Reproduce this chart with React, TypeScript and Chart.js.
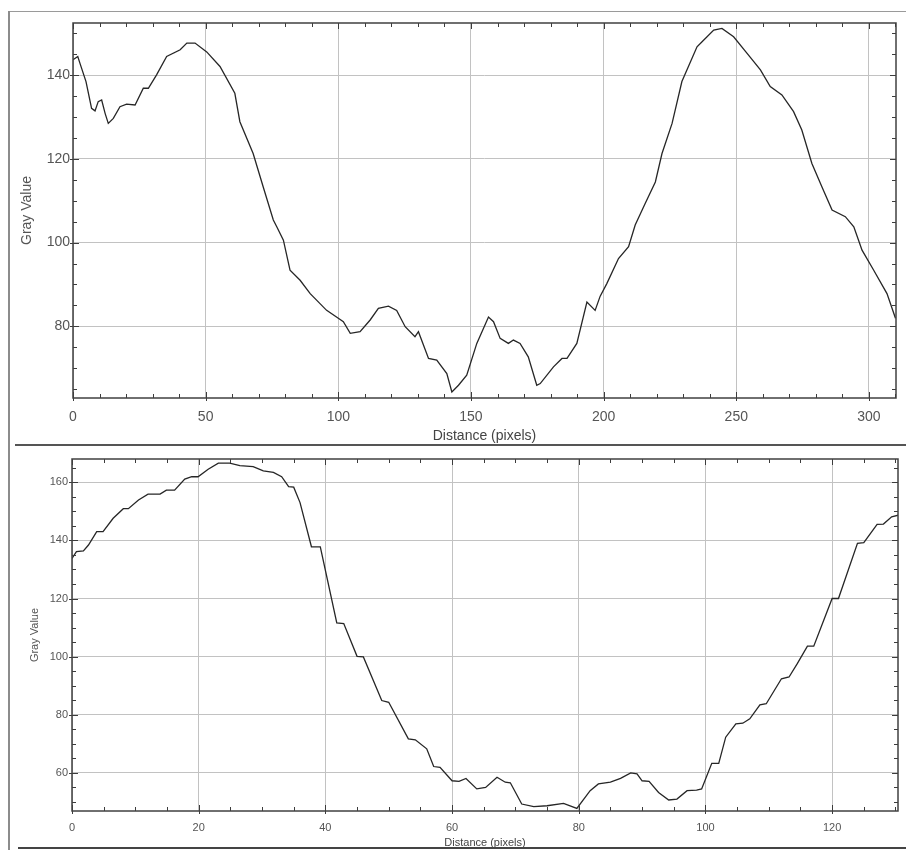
import React, { useEffect, useRef } from "react";
import { Chart, registerables } from "chart.js";

Chart.register(...registerables);

// ---- Top profile (Distance in pixels vs Gray Value) ----
const topDistance = [
  0, 1.8, 2.6, 4.9, 7, 8.3, 9.5, 10.8, 12.1, 13.3, 15.2, 17.7, 20.2, 23.4, 26.5, 28.4, 31.5, 35.3, 40.4,
  42.9, 46, 50.4, 55.4, 61, 62.9, 67.9, 71.7, 75.5, 76.8, 79.3, 81.8, 85.6, 89.4, 95.6, 100, 101.9, 104.5,
  108.2, 112, 115.1, 118.9, 122, 125.2, 128.9, 130.2, 134, 137.1, 140.9, 142.8, 145.3, 148.4, 152.2, 156.6,
  158.5, 161, 164.1, 166, 168.5, 171.6, 174.8, 176.1, 181.1, 184.3, 186.2, 189.9, 193.7, 196.8, 198.7,
  201.2, 205.6, 209.4, 211.9, 215.7, 219.5, 222, 225.8, 229.5, 235.2, 237.1, 241.5, 244.6, 249, 254, 259.1,
  262.8, 267.2, 271.6, 274.7, 278.5, 282.3, 286.1, 291.1, 294.3, 297.4, 301.8, 306.8, 310,
];
const topGray = [
  143.7, 144.5, 142.9, 138.5, 132.1, 131.5, 133.7, 134.1, 130.9, 128.5, 129.7, 132.5, 133.1, 132.9, 136.9,
  136.9, 140.1, 144.5, 146.1, 147.7, 147.7, 145.6, 142.1, 135.7, 128.9, 121.3, 113.3, 105.4, 103.8, 100.6,
  93.4, 91, 87.8, 83.8, 81.9, 81.1, 78.3, 78.7, 81.5, 84.3, 84.8, 83.8, 79.9, 77.5, 78.7, 72.3, 71.9, 68.7,
  64.3, 65.9, 68.3, 75.9, 82.2, 81.1, 77.1, 75.9, 76.7, 75.9, 72.7, 65.9, 66.3, 70.3, 72.3, 72.3, 75.9,
  85.8, 83.8, 87.2, 90.2, 96.2, 99.0, 104.2, 109.4, 114.5, 121.3, 128.5, 138.5, 146.8, 148.0, 150.8, 151.2,
  149.2, 145.3, 141.3, 137.3, 135.3, 131.3, 126.9, 118.9, 113.3, 107.8, 106.2, 103.8, 98.2, 93.4, 87.8, 81.9,
];
const topXTicks = [0, 50, 100, 150, 200, 250, 300];
const topYTicks = [80, 100, 120, 140];

// ---- Bottom profile ----
const bottomDistance = [
  0, 0.7, 1.8, 2.6, 3.9, 4.9, 6.5, 8.1, 8.9, 10.5, 12, 13.9, 14.9, 16.2, 17.8, 18.9, 19.9, 21.5, 23.1, 24.9,
  26.5, 28.6, 30.2, 31.8, 33.1, 34.2, 35, 36, 37.8, 39.2, 41.8, 42.9, 45, 46, 48.9, 50, 53.1, 54.2, 56, 57.1,
  58.1, 60, 61.1, 62.2, 63.9, 65.3, 67.1, 68.4, 69.2, 71, 72.9, 75, 77.6, 79.7, 81.8, 83.1, 85, 86.6, 88.2,
  89.2, 90, 91.1, 92.6, 94.2, 95.5, 97.1, 98.6, 99.4, 101, 102.1, 103.2, 104.8, 105.9, 107, 108.6, 109.6,
  112, 113.2, 114.5, 116.1, 117.1, 120, 121, 124, 125, 127.1, 128.1, 129.4, 130.5,
];
const bottomGray = [
  133.8, 136.1, 136.4, 138.4, 143, 143, 147.6, 150.9, 150.9, 153.9, 155.9, 155.9, 157.3, 157.3, 161.1, 161.9,
  161.9, 164.5, 166.6, 166.6, 165.7, 165.4, 163.9, 163.4, 161.9, 158.5, 158.3, 153, 137.8, 137.8, 111.6,
  111.4, 100.1, 99.9, 84.9, 84.3, 71.7, 71.4, 68.3, 62.2, 61.9, 57.3, 57.1, 58.1, 54.5, 55, 58.5, 56.8,
  56.6, 49.3, 48.4, 48.7, 49.5, 47.8, 53.9, 56.2, 56.8, 58.1, 60, 59.7, 57.3, 57.1, 53.3, 50.7, 51, 53.9,
  54.1, 54.5, 63.3, 63.3, 72.3, 76.9, 77.1, 78.6, 83.4, 83.8, 92.4, 93, 97.6, 103.6, 103.6, 120, 120, 139,
  139.2, 145.5, 145.6, 148.1, 148.7,
];
const bottomXTicks = [0, 20, 40, 60, 80, 100, 120];
const bottomYTicks = [60, 80, 100, 120, 140, 160];

const FONT = "'Liberation Sans', Arial, Helvetica, sans-serif";

function framePlugin(xMajor: number, xMinor: number, yMajor: number, yMinor: number, majorLen: number, minorLen: number) {
  const isMult = (v: number, s: number) => Math.abs(v / s - Math.round(v / s)) < 1e-6;
  return {
    id: "frameTicks",
    afterDraw(chart: any) {
      const { ctx, chartArea: a, scales } = chart;
      const xs = scales.x;
      const ys = scales.y;
      ctx.save();
      ctx.strokeStyle = "#3c3c3c";
      ctx.lineWidth = 1;
      ctx.beginPath();
      for (let v = Math.ceil(xs.min / xMinor) * xMinor; v <= xs.max + 1e-9; v += xMinor) {
        const px = Math.round(xs.getPixelForValue(v)) + 0.5;
        const major = isMult(v, xMajor);
        const len = major ? majorLen : minorLen;
        ctx.moveTo(px, a.bottom);
        ctx.lineTo(px, a.bottom - len);
        ctx.moveTo(px, a.top);
        ctx.lineTo(px, a.top + len);
        if (major) {
          ctx.moveTo(px, a.bottom);
          ctx.lineTo(px, a.bottom + 3);
        }
      }
      for (let v = Math.ceil(ys.min / yMinor) * yMinor; v <= ys.max + 1e-9; v += yMinor) {
        const py = Math.round(ys.getPixelForValue(v)) + 0.5;
        const major = isMult(v, yMajor);
        const len = major ? majorLen : minorLen;
        ctx.moveTo(a.left, py);
        ctx.lineTo(a.left + len, py);
        ctx.moveTo(a.right, py);
        ctx.lineTo(a.right - len, py);
        if (major) {
          ctx.moveTo(a.left, py);
          ctx.lineTo(a.left - 3, py);
        }
      }
      ctx.stroke();
      ctx.lineWidth = 1.5;
      ctx.strokeStyle = "#404040";
      ctx.strokeRect(a.left, a.top, a.right - a.left, a.bottom - a.top);
      ctx.restore();
    },
  };
}

type PanelOpts = {
  xs: number[];
  ys: number[];
  xTicks: number[];
  yTicks: number[];
  xMin: number;
  xMax: number;
  yMin: number;
  yMax: number;
  xStep: number;
  yStep: number;
  xMinor: number;
  yMinor: number;
  padding: { left: number; top: number; right: number; bottom: number };
  yWidth: number;
  xHeight: number;
  tickFont: number;
  xTickPad: number;
  yTickPad: number;
  titleFont: number;
  yTitlePad: number;
};

function makeConfig(p: PanelOpts): any {
  return {
    type: "line",
    data: {
      datasets: [
        {
          data: p.xs.map((x, i) => ({ x, y: p.ys[i] })),
          borderColor: "#262626",
          borderWidth: 1.3,
          pointRadius: 0,
          tension: 0,
          fill: false,
        },
      ],
    },
    options: {
      animation: false,
      responsive: false,
      maintainAspectRatio: false,
      layout: { padding: p.padding },
      plugins: { legend: { display: false }, tooltip: { enabled: false } },
      scales: {
        x: {
          type: "linear",
          min: p.xMin,
          max: p.xMax,
          afterBuildTicks: (s: any) => {
            s.ticks = p.xTicks.map((value) => ({ value }));
          },
          afterFit: (s: any) => {
            s.height = p.xHeight;
          },
          ticks: {
            stepSize: p.xStep,
            includeBounds: false,
            autoSkip: false,
            maxRotation: 0,
            padding: p.xTickPad,
            color: "#555",
            font: { family: FONT, size: p.tickFont },
          },
          grid: { color: "#c2c2c2", lineWidth: 1, drawTicks: false },
          border: { display: false },
          title: {
            display: true,
            text: "Distance (pixels)",
            color: "#444",
            font: { family: FONT, size: p.titleFont },
            padding: { top: 0, bottom: 0 },
          },
        },
        y: {
          type: "linear",
          min: p.yMin,
          max: p.yMax,
          afterBuildTicks: (s: any) => {
            s.ticks = p.yTicks.map((value) => ({ value }));
          },
          afterFit: (s: any) => {
            s.width = p.yWidth;
          },
          ticks: {
            stepSize: p.yStep,
            includeBounds: false,
            autoSkip: false,
            padding: p.yTickPad,
            color: "#555",
            font: { family: FONT, size: p.tickFont },
          },
          grid: { color: "#c2c2c2", lineWidth: 1, drawTicks: false },
          border: { display: false },
          title: {
            display: true,
            text: "Gray Value",
            color: "#555",
            font: { family: FONT, size: p.titleFont },
            padding: { top: p.yTitlePad, bottom: 0 },
          },
        },
      },
    },
    plugins: [framePlugin(p.xStep, p.xMinor, p.yStep, p.yMinor, 6, 4)],
  };
}

export default function App() {
  const topRef = useRef<HTMLCanvasElement>(null);
  const botRef = useRef<HTMLCanvasElement>(null);

  useEffect(() => {
    document.body.style.margin = "0";
    const c1 = new Chart(
      topRef.current as HTMLCanvasElement,
      makeConfig({
        xs: topDistance,
        ys: topGray,
        xTicks: topXTicks,
        yTicks: topYTicks,
        xMin: 0,
        xMax: 310.2,
        yMin: 62.85,
        yMax: 152.5,
        xStep: 50,
        yStep: 20,
        xMinor: 10,
        yMinor: 5,
        padding: { left: 0, top: 23, right: 10, bottom: 0 },
        yWidth: 73,
        xHeight: 47,
        tickFont: 14,
        xTickPad: 11,
        yTickPad: 3,
        titleFont: 14,
        yTitlePad: 19,
      })
    );
    const c2 = new Chart(
      botRef.current as HTMLCanvasElement,
      makeConfig({
        xs: bottomDistance,
        ys: bottomGray,
        xTicks: bottomXTicks,
        yTicks: bottomYTicks,
        xMin: 0,
        xMax: 130.4,
        yMin: 46.9,
        yMax: 168,
        xStep: 20,
        yStep: 20,
        xMinor: 5,
        yMinor: 5,
        padding: { left: 0, top: 14, right: 8, bottom: 0 },
        yWidth: 72,
        xHeight: 39,
        tickFont: 11,
        xTickPad: 10,
        yTickPad: 4,
        titleFont: 11,
        yTitlePad: 28,
      })
    );
    return () => {
      c1.destroy();
      c2.destroy();
    };
  }, []);

  return (
    <div style={{ position: "absolute", left: 0, top: 0, width: 906, height: 850, background: "#fff", overflow: "hidden" }}>
      <canvas ref={topRef} width={906} height={445} style={{ position: "absolute", left: 0, top: 0, width: 906, height: 445 }} />
      <canvas ref={botRef} width={906} height={405} style={{ position: "absolute", left: 0, top: 445, width: 906, height: 405 }} />
      <div style={{ position: "absolute", left: 9, top: 11, width: 897, height: 1, background: "#9a9a9a" }} />
      <div style={{ position: "absolute", left: 8, top: 11, width: 2, height: 839, background: "#8c8c8c" }} />
      <div style={{ position: "absolute", left: 15, top: 444, width: 891, height: 2, background: "#555" }} />
      <div style={{ position: "absolute", left: 18, top: 847, width: 888, height: 2, background: "#444" }} />
    </div>
  );
}
